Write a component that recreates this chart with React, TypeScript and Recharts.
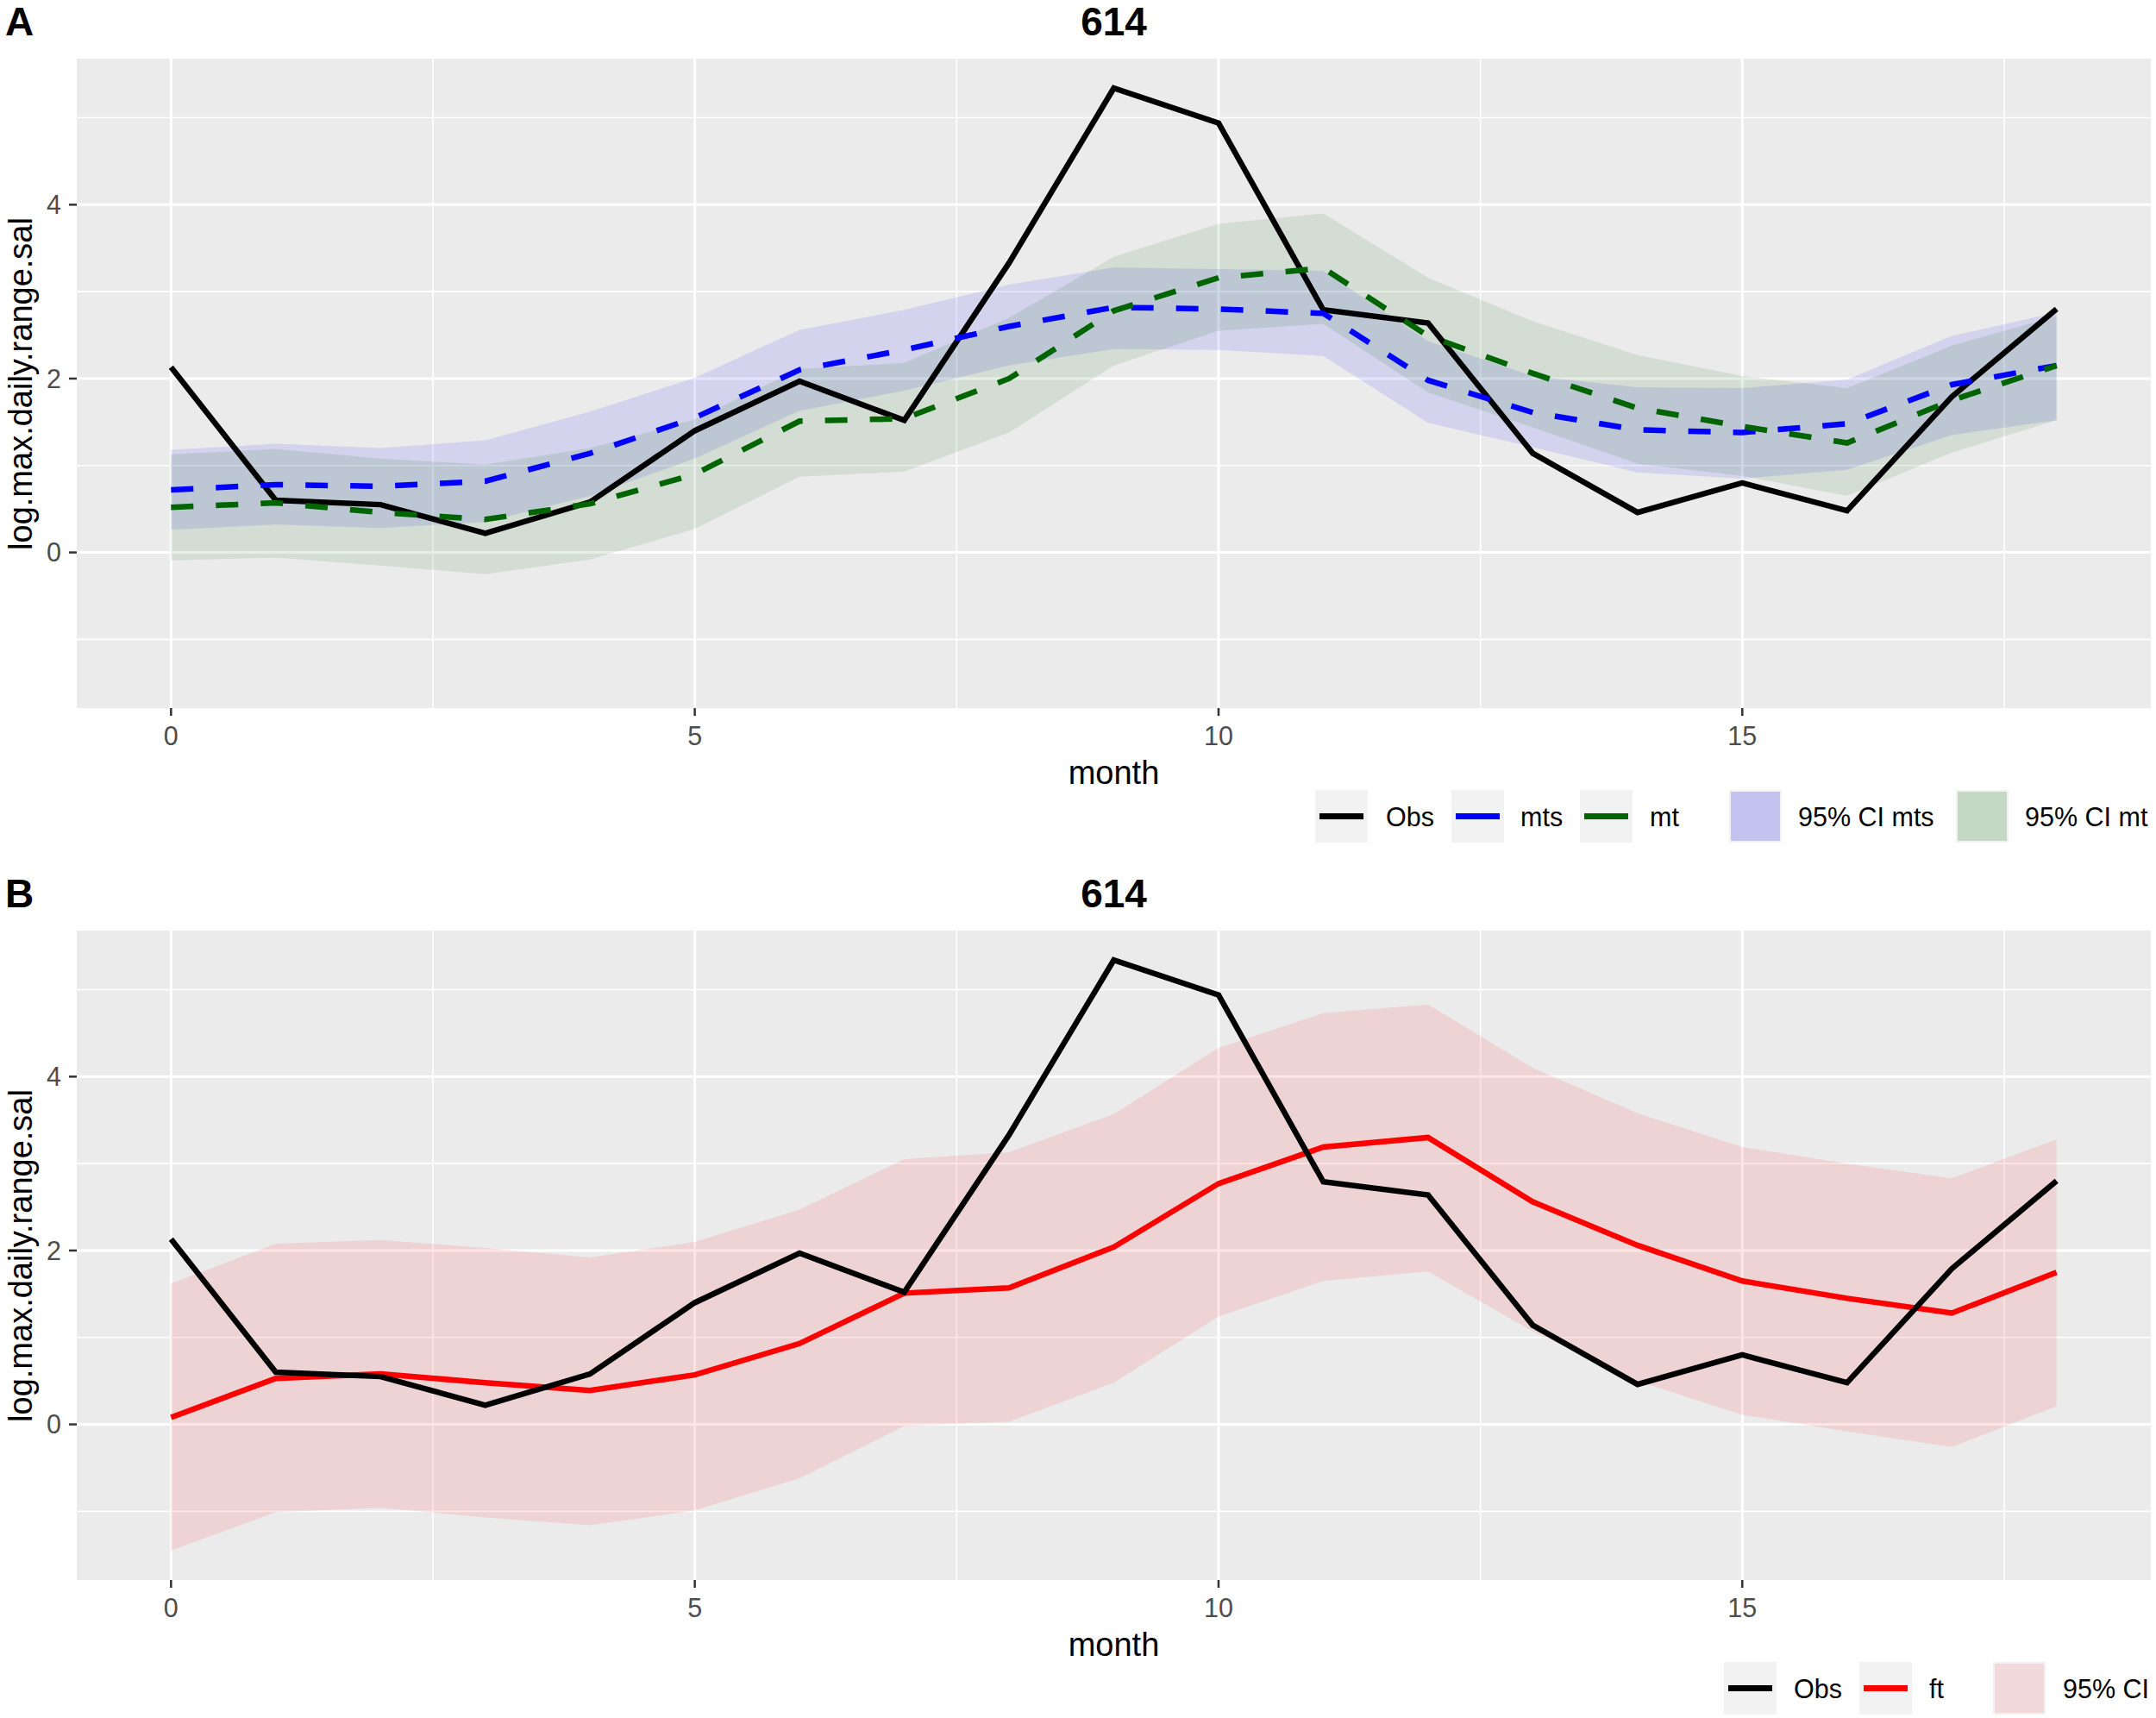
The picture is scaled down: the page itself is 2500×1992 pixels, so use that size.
import React from "react";
import { Area, CartesianGrid, ComposedChart, Line, XAxis, YAxis } from "recharts";

// values
const MONTHS = [0, 1, 2, 3, 4, 5, 6, 7, 8, 9, 10, 11, 12, 13, 14, 15, 16, 17, 18];
const OBS = [2.13, 0.6, 0.55, 0.22, 0.58, 1.4, 1.97, 1.52, 3.33, 5.34, 4.94, 2.79, 2.64, 1.14, 0.46, 0.8, 0.48, 1.79, 2.8];

const MTS = [0.72, 0.78, 0.76, 0.82, 1.14, 1.55, 2.1, 2.33, 2.6, 2.82, 2.8, 2.75, 1.98, 1.61, 1.41, 1.38, 1.48, 1.93, 2.15];
const MTS_LO = [0.26, 0.32, 0.28, 0.35, 0.65, 1.08, 1.63, 1.86, 2.15, 2.34, 2.33, 2.26, 1.49, 1.21, 0.92, 0.85, 0.95, 1.35, 1.52];
const MTS_HI = [1.18, 1.25, 1.2, 1.29, 1.62, 2.01, 2.56, 2.79, 3.08, 3.28, 3.26, 3.24, 2.43, 2.03, 1.9, 1.89, 1.99, 2.49, 2.76];

const MT = [0.52, 0.57, 0.46, 0.38, 0.56, 0.9, 1.51, 1.54, 2.0, 2.78, 3.16, 3.27, 2.49, 2.06, 1.66, 1.45, 1.26, 1.75, 2.15];
const MT_LO = [-0.09, -0.06, -0.15, -0.25, -0.08, 0.27, 0.87, 0.93, 1.38, 2.15, 2.55, 2.63, 1.84, 1.44, 1.02, 0.88, 0.65, 1.15, 1.52];
const MT_HI = [1.13, 1.19, 1.08, 1.01, 1.2, 1.53, 2.11, 2.18, 2.7, 3.4, 3.78, 3.9, 3.16, 2.66, 2.27, 2.03, 1.89, 2.38, 2.72];

const FT = [0.08, 0.53, 0.58, 0.48, 0.39, 0.57, 0.93, 1.51, 1.57, 2.04, 2.77, 3.19, 3.3, 2.56, 2.06, 1.65, 1.45, 1.28, 1.75];
const FT_LO = [-1.45, -1.01, -0.96, -1.07, -1.16, -0.99, -0.62, -0.02, 0.03, 0.48, 1.24, 1.65, 1.76, 1.07, 0.5, 0.11, -0.08, -0.26, 0.21];
const FT_HI = [1.62, 2.08, 2.12, 2.03, 1.92, 2.1, 2.47, 3.05, 3.13, 3.57, 4.33, 4.73, 4.83, 4.1, 3.58, 3.19, 3.0, 2.83, 3.28];

const X_TICKS = [0, 5, 10, 15];
const X_MINOR = [2.5, 7.5, 12.5, 17.5];
const Y_TICKS = [0, 2, 4];
const Y_MINOR = [-1, 1, 3, 5];
const X_DOMAIN = [-0.9, 18.9];
const Y_DOMAIN = [-1.79, 5.68];

const TITLE = "614";
const X_TITLE = "month";
const Y_TITLE = "log.max.daily.range.sal";
const LEGEND_A = ["Obs", "mts", "mt", "95% CI mts", "95% CI mt"];
const LEGEND_B = ["Obs", "ft", "95% CI"];

const FONT = '"Liberation Sans", Arial, Helvetica, sans-serif';
const W = 2500;
const H = 980;

const dataA = MONTHS.map((m, i) => ({
  month: m,
  obs: OBS[i],
  mts: MTS[i],
  mt: MT[i],
  ciMts: [MTS_LO[i], MTS_HI[i]],
  ciMt: [MT_LO[i], MT_HI[i]],
}));

const dataB = MONTHS.map((m, i) => ({
  month: m,
  obs: OBS[i],
  ft: FT[i],
  ci: [FT_LO[i], FT_HI[i]],
}));

type Key = { label: string; kind: "line" | "fill"; color: string; keyX: number; textX: number };

const keysA: Key[] = [
  { label: LEGEND_A[0], kind: "line", color: "#000000", keyX: 1525, textX: 1607 },
  { label: LEGEND_A[1], kind: "line", color: "#0000FF", keyX: 1683, textX: 1763 },
  { label: LEGEND_A[2], kind: "line", color: "#006400", keyX: 1832, textX: 1913 },
  { label: LEGEND_A[3], kind: "fill", color: "#C3C3F0", keyX: 2005, textX: 2085 },
  { label: LEGEND_A[4], kind: "fill", color: "#C4D8C4", keyX: 2268, textX: 2348 },
];

const keysB: Key[] = [
  { label: LEGEND_B[0], kind: "line", color: "#000000", keyX: 1999, textX: 2080 },
  { label: LEGEND_B[1], kind: "line", color: "#FF0000", keyX: 2156, textX: 2237 },
  { label: LEGEND_B[2], kind: "fill", color: "#F2D8D8", keyX: 2311, textX: 2392 },
];

const tickStyle = { fill: "#4D4D4D", fontSize: 30.5, fontFamily: FONT };
const tickLine = { stroke: "#333333", strokeWidth: 2.5 };

function Overlay({ tag, keys }: { tag: string; keys: Key[] }) {
  const keyTop = 916;
  const keySize = 61;
  return (
    <svg
      width={W}
      height={H}
      style={{ position: "absolute", left: 0, top: 0, pointerEvents: "none" }}
      fontFamily={FONT}
    >
      <text x={6} y={41} fontSize={46} fontWeight="bold" fill="#000">{tag}</text>
      <text x={1291.5} y={41} fontSize={46} fontWeight="bold" fill="#000" textAnchor="middle">{TITLE}</text>
      <text x={1291.5} y={909} fontSize={38} fill="#000" textAnchor="middle">{X_TITLE}</text>
      <text transform="translate(37,445) rotate(-90)" fontSize={38} fill="#000" textAnchor="middle">{Y_TITLE}</text>
      {keys.map((k) => (
        <g key={k.label}>
          <rect x={k.keyX} y={keyTop} width={keySize} height={keySize} fill="#F2F2F2" />
          {k.kind === "line" ? (
            <line
              x1={k.keyX + 5}
              x2={k.keyX + keySize - 5}
              y1={keyTop + keySize / 2}
              y2={keyTop + keySize / 2}
              stroke={k.color}
              strokeWidth={7}
            />
          ) : (
            <rect x={k.keyX + 2} y={keyTop + 2} width={keySize - 4} height={keySize - 4} fill={k.color} />
          )}
          <text x={k.textX} y={keyTop + 42} fontSize={30.5} fill="#000">{k.label}</text>
        </g>
      ))}
    </svg>
  );
}

function Frame({ children, data }: { children: React.ReactNode; data: any[] }) {
  return (
    <ComposedChart width={W} height={H} data={data} margin={{ top: 68, right: 6, bottom: 99, left: 0 }}>
      <CartesianGrid
        fill="#EBEBEB"
        stroke="#FFFFFF"
        strokeWidth={1.6}
        horizontalValues={Y_MINOR}
        verticalValues={X_MINOR}
      />
      <CartesianGrid stroke="#FFFFFF" strokeWidth={3} horizontalValues={Y_TICKS} verticalValues={X_TICKS} />
      <XAxis
        dataKey="month"
        type="number"
        domain={X_DOMAIN}
        ticks={X_TICKS}
        interval={0}
        allowDataOverflow
        axisLine={false}
        tickLine={tickLine}
        tickSize={9}
        tickMargin={12}
        tick={tickStyle}
        height={60}
      />
      <YAxis
        type="number"
        domain={Y_DOMAIN}
        ticks={Y_TICKS}
        interval={0}
        allowDataOverflow
        axisLine={false}
        tickLine={tickLine}
        tickSize={9}
        tickMargin={9}
        tick={tickStyle}
        width={89}
      />
      {children}
    </ComposedChart>
  );
}

export default function App() {
  return (
    <div style={{ position: "absolute", left: 0, top: 0, width: W, height: 1992, background: "#fff" }}>
      {/* Panel A */}
      <div style={{ position: "absolute", left: 0, top: 0, width: W, height: H }}>
        <Frame data={dataA}>
          <Area dataKey="ciMts" type="linear" stroke="none" fill="#0000FF" fillOpacity={0.1} isAnimationActive={false} activeDot={false} />
          <Area dataKey="ciMt" type="linear" stroke="none" fill="#006400" fillOpacity={0.1} isAnimationActive={false} activeDot={false} />
          <Line dataKey="obs" type="linear" stroke="#000000" strokeWidth={6.5} dot={false} activeDot={false} isAnimationActive={false} />
          <Line dataKey="mts" type="linear" stroke="#0000FF" strokeWidth={6.5} strokeDasharray="26 26" dot={false} activeDot={false} isAnimationActive={false} />
          <Line dataKey="mt" type="linear" stroke="#006400" strokeWidth={6.5} strokeDasharray="26 26" dot={false} activeDot={false} isAnimationActive={false} />
        </Frame>
        <Overlay tag="A" keys={keysA} />
      </div>
      {/* Panel B */}
      <div style={{ position: "absolute", left: 0, top: 1011, width: W, height: H }}>
        <Frame data={dataB}>
          <Area dataKey="ci" type="linear" stroke="none" fill="#FF0000" fillOpacity={0.1} isAnimationActive={false} activeDot={false} />
          <Line dataKey="ft" type="linear" stroke="#FF0000" strokeWidth={6.5} dot={false} activeDot={false} isAnimationActive={false} />
          <Line dataKey="obs" type="linear" stroke="#000000" strokeWidth={6.5} dot={false} activeDot={false} isAnimationActive={false} />
        </Frame>
        <Overlay tag="B" keys={keysB} />
      </div>
    </div>
  );
}
